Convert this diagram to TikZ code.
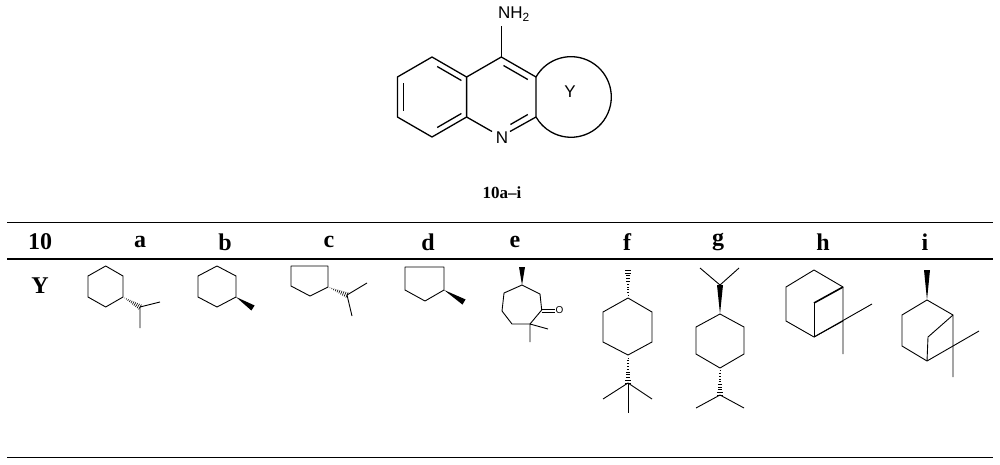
\documentclass[tikz,border=0pt]{standalone}
\usepackage{fontspec}
\setmainfont{Liberation Serif}
\newfontfamily\chemsans{Liberation Sans}
\usetikzlibrary{calc}
\newcommand\hashwedge[2]{%
  \coordinate (hwB1) at ($(#2)!2.8pt!90:(#1)$);
  \coordinate (hwB2) at ($(#2)!2.8pt!-90:(#1)$);
  \foreach \t in {0.1,0.2,...,1.01}{\draw[line width=0.6pt] ($(#1)!\t!(hwB1)$) -- ($(#1)!\t!(hwB2)$);}}
\newcommand\solidwedge[2]{%
  \fill ($(#2)!3pt!90:(#1)$) -- (#1) -- ($(#2)!3pt!-90:(#1)$) -- cycle;}
\begin{document}
\begin{tikzpicture}[x=1pt,y=-1pt,line join=round,
  bond/.style={line width=0.9pt},
  mainbond/.style={line width=1.3pt},
  hdr/.style={font=\bfseries\fontsize{24}{24}\selectfont,inner sep=0},
  rule/.style={line width=1.6pt}]
\useasboundingbox (0,0) rectangle (1000,464);
% ---- top scaffold
\begin{scope}[mainbond]
\coordinate (L1) at (432,57); \coordinate (L2) at (466.6,77); \coordinate (L3) at (466.6,117);
\coordinate (L4) at (432,137); \coordinate (L5) at (397.4,117); \coordinate (L6) at (397.4,77);
\coordinate (R1) at (501.3,57); \coordinate (R2) at (536,77); \coordinate (R3) at (536,117);
\coordinate (R4) at (501.3,137);
\draw (L1)--(L2)--(L3)--(L4)--(L5)--(L6)--cycle;
\draw (L2)--(R1)--(R2)--(R3);
\draw (L3)--(492,131.5);
\draw (510,131.5)--(R3);
\draw ($(L6)!0.15!(L5)+(6,0)$)--($(L6)!0.85!(L5)+(6,0)$);
\draw ($(L1)!0.15!(L2)+(0,6.5)$)--($(L1)!0.85!(L2)+(0,6.5)$);
\draw ($(L4)!0.15!(L3)+(0,-6.5)$)--($(L4)!0.85!(L3)+(0,-6.5)$);
\draw ($(R1)!0.15!(R2)+(-3,5.5)$)--($(R1)!0.85!(R2)+(-3,5.5)$);
\draw ($(R4)!0.35!(R3)+(-3,-5.5)$)--($(R4)!0.85!(R3)+(-3,-5.5)$);
\draw (R1)--(501.3,26);
\draw (R2) arc[start angle=209.7,end angle=510.3,radius=40.3];
\end{scope}
\node[font=\chemsans\fontsize{17}{17}\selectfont] (nh2) at (514,14) {NH\textsubscript{2}};
\node[font=\chemsans\fontsize{17}{17}\selectfont] (nN) at (502,138) {N};
\node[font=\chemsans\fontsize{17}{17}\selectfont] (nY) at (570,92) {Y};
\node[font=\bfseries\fontsize{17}{17}\selectfont] (title) at (502,193) {10a–i};
% ---- table
\draw[rule] (7,222.5)--(993,222.5);
\draw[rule] (7,259)--(993,259);
\draw[rule] (7,457.5)--(993,457.5);
\foreach \n/\x/\s in {h10/40/10,ha/140/a,hb/225/b,hc/329/c,hd/428/d,he/515/e,hf/627/f,hg/718/g,hh/823/h,hi/925/i}
  \node[hdr] (\n) at (\x,242) {\s};
\node[hdr] (hY) at (40,286) {Y};
\begin{scope}[bond]
% a
\draw (88,276)--(105.7,266)--(123,276)--(123,297)--(105.7,307)--(88,297)--cycle;
\coordinate (a1) at (123,297); \coordinate (a2) at (140,307);
\hashwedge{a1}{a2}
\draw (160,302)--(a2)--(140,328);
% b
\draw (198,276)--(217,266)--(236,276)--(236,297)--(217,307)--(198,297)--cycle;
\coordinate (b1) at (236,297); \coordinate (b2) at (253,308);
\solidwedge{b1}{b2}
% c
\draw (291,266)--(328,266)--(328,287)--(310,296)--(291,286)--cycle;
\coordinate (c1) at (328,287); \coordinate (c2) at (347,295);
\hashwedge{c1}{c2}
\draw (367,283)--(c2)--(352,316);
% d
\draw (405,267)--(444,267)--(444,290)--(425,301)--(405,290)--cycle;
\coordinate (d1) at (444,290); \coordinate (d2) at (464,302);
\solidwedge{d1}{d2}
% e
\draw (522,285)--(540,294)--(541.7,310)--(530,324)--(512,324)--(502,311)--(504,293)--cycle;
\coordinate (e1) at (522,285); \coordinate (e2) at (522,267);
\solidwedge{e1}{e2}
\draw (541.7,309)--(555,309); \draw (541.7,312)--(555,312);
\draw (548,329)--(530,324)--(530,342);
\node[font=\chemsans\fontsize{10}{10}\selectfont,inner sep=0] (eO) at (559.5,310.5) {O};
% f
\draw (628,298)--(652,312)--(652,342)--(628,355)--(603,342)--(603,312)--cycle;
\coordinate (f1) at (628,298); \coordinate (f2) at (628,270);
\hashwedge{f1}{f2}
\coordinate (f3) at (628,355); \coordinate (f4) at (628,383);
\hashwedge{f3}{f4}
\draw (603,399)--(f4)--(652,399); \draw (f4)--(628,413);
% g
\draw (720,314)--(744,327)--(744,354)--(720,368)--(696,354)--(696,327)--cycle;
\coordinate (g1) at (720,314); \coordinate (g2) at (720,285);
\solidwedge{g1}{g2}
\draw (700,268)--(g2)--(739,268);
\coordinate (g3) at (720,368); \coordinate (g4) at (720,395);
\hashwedge{g3}{g4}
\draw (696,408)--(g4)--(744,408);
% h
\draw (814,270)--(843,287)--(843,354);
\draw (843,321)--(814,337)--(786,321)--(786,287)--(814,270);
\draw (814,337)--(814,303);
\draw[line width=1.6pt] (814,303)--(843,287);
\draw (814,337)--(872,304);
% i
\draw (927,300)--(953,315)--(953,377);
\draw (927,300)--(902,315)--(902,346)--(927,361);
\draw (927,361)--(928,337)--(953,315);
\draw (927,361)--(979,331);
\coordinate (i1) at (927,300); \coordinate (i2) at (927,270);
\solidwedge{i1}{i2}
\end{scope}
\end{tikzpicture}
\end{document}
